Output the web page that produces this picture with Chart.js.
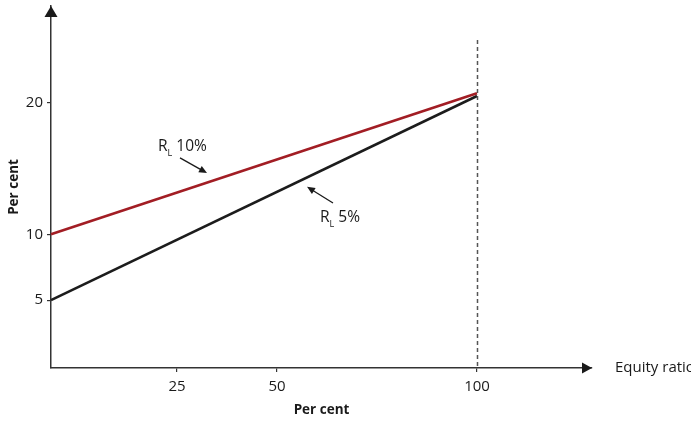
<!DOCTYPE html>
<html>
<head>
<meta charset="utf-8">
<script src="https://cdn.jsdelivr.net/npm/chart.js@4"></script>
<style>
html,body{margin:0;padding:0;background:#fff;}
canvas{display:block;}
</style>
</head>
<body>
<canvas id="c" width="691" height="421"></canvas>
<script>
// ---- data ----
const equityRatio = [-6.5, 100];      // x positions: start at the vertical axis, end at 100
const rl10 = [10, 20.7];              // R_L 10%
const rl5 = [5, 20.5];                // R_L 5%
const xTickValues = [25, 50, 100];
const yTickValues = [5, 10, 20];
const xRange = [-6.5, 128.75];
const yRange = [-0.15, 27.33];
const dashTop = 24.75;                // top of dashed line at x = 100
const labels = [
  {main: 'R', sub: 'L', rest: '10%', x: 20.25, y: 16.32, arrow: [[25.75, 15.8], [32.5, 14.65]]},
  {main: 'R', sub: 'L', rest: '5%',  x: 60.75, y: 10.93, arrow: [[64, 12.38], [57.5, 13.6]]}
];

const FONT = '"Open Sans", "Noto Sans", sans-serif';
const AXIS = '#333333';

function arrowHead(ctx, x, y, ang, len, half) {
  ctx.save();
  ctx.translate(x, y);
  ctx.rotate(ang);
  ctx.beginPath();
  ctx.moveTo(0, 0);
  ctx.lineTo(-len, -half);
  ctx.lineTo(-len, half);
  ctx.closePath();
  ctx.fill();
  ctx.restore();
}

const deco = {
  id: 'deco',
  afterDraw(chart) {
    const ctx = chart.ctx;
    const xs = chart.scales.x, ys = chart.scales.y;
    const ca = chart.chartArea;
    ctx.save();
    // axis arrow heads
    ctx.fillStyle = '#1a1a1a';
    arrowHead(ctx, ca.left, ca.top, -Math.PI / 2, 11, 6.5);
    arrowHead(ctx, ca.right, ca.bottom, 0, 10, 5.5);
    // dashed vertical at 100
    ctx.strokeStyle = '#555555';
    ctx.lineWidth = 1.5;
    ctx.setLineDash([4, 3]);
    ctx.beginPath();
    const dx = Math.round(xs.getPixelForValue(100)) + 0.5;
    ctx.moveTo(dx, ys.getPixelForValue(dashTop));
    ctx.lineTo(dx, ca.bottom);
    ctx.stroke();
    ctx.setLineDash([]);
    // series labels with pointer arrows
    ctx.fillStyle = '#1a1a1a';
    ctx.strokeStyle = '#1a1a1a';
    ctx.textBaseline = 'alphabetic';
    ctx.textAlign = 'left';
    labels.forEach(l => {
      const px = xs.getPixelForValue(l.x), py = ys.getPixelForValue(l.y);
      ctx.font = '15.5px ' + FONT;
      ctx.fillText(l.main, px, py);
      const w = ctx.measureText(l.main).width;
      ctx.font = '9px ' + FONT;
      ctx.fillText(l.sub, px + w, py + 5);
      const ws = ctx.measureText(l.sub).width;
      ctx.font = '15.5px ' + FONT;
      ctx.fillText(l.rest, px + w + ws + 4, py);
      const [a, b] = l.arrow;
      const x1 = xs.getPixelForValue(a[0]), y1 = ys.getPixelForValue(a[1]);
      const x2 = xs.getPixelForValue(b[0]), y2 = ys.getPixelForValue(b[1]);
      const ang = Math.atan2(y2 - y1, x2 - x1);
      ctx.lineWidth = 1.3;
      ctx.beginPath();
      ctx.moveTo(x1, y1);
      ctx.lineTo(x2 - 6 * Math.cos(ang), y2 - 6 * Math.sin(ang));
      ctx.stroke();
      arrowHead(ctx, x2, y2, ang, 8, 3.5);
    });
    // "Equity ratio" label
    ctx.font = '15px ' + FONT;
    ctx.textBaseline = 'middle';
    ctx.fillText('Equity ratio', ca.right + 23, ca.bottom);
    ctx.restore();
  }
};

new Chart(document.getElementById('c'), {
  type: 'line',
  data: {
    datasets: [
      {label: 'R_L 10%', data: equityRatio.map((x, i) => ({x, y: rl10[i]})), borderColor: '#a21d24', borderWidth: 2.6, pointRadius: 0, tension: 0, clip: false},
      {label: 'R_L 5%', data: equityRatio.map((x, i) => ({x, y: rl5[i]})), borderColor: '#1c1c1c', borderWidth: 2.6, pointRadius: 0, tension: 0, clip: false}
    ]
  },
  options: {
    responsive: false,
    animation: false,
    devicePixelRatio: 1,
    layout: {padding: {top: 6, right: 99, left: 0, bottom: 0}},
    plugins: {legend: {display: false}, tooltip: {enabled: false}},
    scales: {
      x: {
        type: 'linear', min: xRange[0], max: xRange[1],
        afterBuildTicks: s => { s.ticks = xTickValues.map(v => ({value: v})); },
        afterFit: s => { s.height = 53; s.paddingLeft = 0; s.paddingRight = 0; },
        grid: {drawOnChartArea: false, drawTicks: true, tickLength: 4, color: AXIS, lineWidth: 1.2},
        border: {display: true, color: AXIS, width: 1.5},
        ticks: {color: '#1a1a1a', font: {family: FONT, size: 15}, padding: 6, maxRotation: 0, autoSkip: false},
        title: {display: true, text: 'Per cent', color: '#1a1a1a', font: {family: FONT, size: 13.5, weight: 'bold'}, padding: {top: 0, bottom: 3}}
      },
      y: {
        type: 'linear', min: yRange[0], max: yRange[1],
        afterBuildTicks: s => { s.ticks = yTickValues.map(v => ({value: v})); },
        afterFit: s => { s.width = 51; s.paddingTop = 0; s.paddingBottom = 0; },
        grid: {drawOnChartArea: false, drawTicks: true, tickLength: 4, color: AXIS, lineWidth: 1.2},
        border: {display: true, color: AXIS, width: 1.5},
        ticks: {color: '#1a1a1a', font: {family: FONT, size: 15}, padding: 4, autoSkip: false},
        title: {display: true, text: 'Per cent', color: '#1a1a1a', font: {family: FONT, size: 13.5, weight: 'bold'}, padding: {top: 6, bottom: 0}}
      }
    }
  },
  plugins: [deco]
});
</script>
</body>
</html>
